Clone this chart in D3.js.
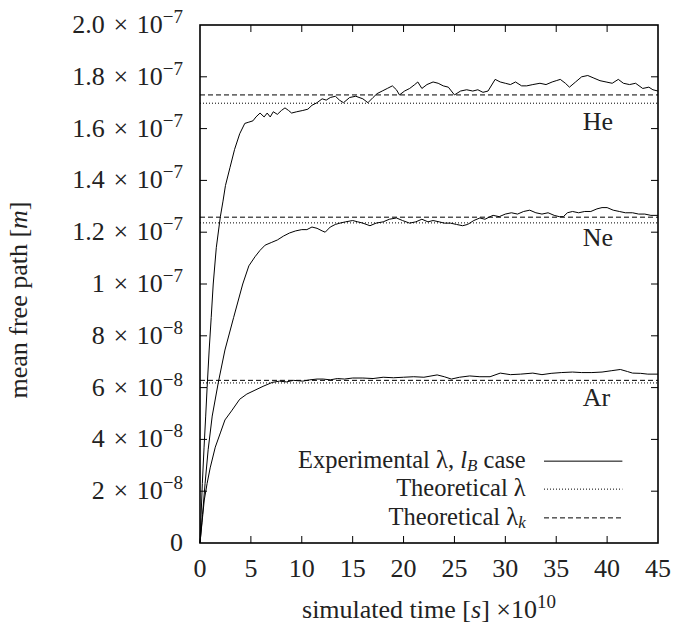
<!DOCTYPE html>
<meta charset="utf-8">
<style>
    body { margin: 0; background: #fff; }
    svg text { font-family: "Liberation Serif", "DejaVu Serif", serif; fill: #222; }
    .frame { fill: none; stroke: #000; stroke-width: 1.6px; }
    .curve { fill: none; stroke: #000; stroke-width: 1px; }
    .dotted { stroke: #000; stroke-width: 1px; stroke-dasharray: 1,2; }
    .dashed { stroke: #000; stroke-width: 1px; stroke-dasharray: 5,3; }
</style>
<body>
<script src="https://d3js.org/d3.v7.min.js"></script>
<script>
// time in units of 1e-10 s, mean free path in units of 1e-8 m
var heTime = [0,0.1,0.23,0.4,0.56,0.7,0.9,1.1,1.3,1.6,2.0,2.26,2.5,2.95,3.4,3.9,4.4,4.8,5.2,5.5,5.9,6.3,6.6,6.9,7.2,7.6,8.0,8.35,8.7,9.0,9.5,10.1,10.6,11.0,11.5,12.0,12.4,12.8,13.3,13.7,14.1,14.7,15.3,16.0,16.5,17.0,17.4,17.9,18.4,18.9,19.3,19.6,20.1,20.6,21.1,21.4,21.8,22.3,22.9,23.4,23.9,24.4,25.0,25.6,26.2,26.8,27.3,27.8,28.3,29.0,29.5,30.0,30.5,31.0,31.6,32.1,32.7,33.4,34.0,34.6,35.0,35.4,35.9,36.3,36.9,37.5,38.1,38.7,39.3,39.9,40.5,41.1,41.6,42.2,42.8,43.5,44.1,44.5,45.0];
var heValue = [0,1.0,2.3,3.7,4.9,6.0,7.45,8.7,10.0,11.4,12.6,13.2,13.8,14.5,15.2,15.8,16.2,16.25,16.3,16.45,16.6,16.45,16.6,16.45,16.65,16.55,16.7,16.8,16.7,16.6,16.65,16.7,16.75,16.9,17.0,17.15,17.1,17.2,17.25,17.1,17.0,17.2,17.25,17.15,17.0,17.2,17.35,17.45,17.55,17.65,17.5,17.3,17.45,17.55,17.7,17.8,17.55,17.7,17.8,17.75,17.65,17.6,17.3,17.45,17.5,17.45,17.5,17.4,17.45,17.9,17.8,17.75,17.7,17.8,17.65,17.65,17.7,17.75,17.7,17.8,17.85,17.9,17.75,17.6,17.8,18.0,18.05,17.95,17.85,17.8,17.75,17.9,17.75,17.7,17.75,17.55,17.6,17.5,17.45];

var neTime = [0,0.25,0.5,0.8,1.2,1.8,2.45,3.3,4.2,4.8,5.4,5.9,6.4,7.0,7.6,8.2,8.8,9.4,10.0,10.5,11.0,11.5,12.0,12.3,12.8,13.3,13.75,14.3,15.0,15.5,16.0,16.7,17.3,18.0,18.6,19.3,19.9,20.6,21.2,21.8,22.4,22.9,23.5,24.0,24.6,25.2,25.8,26.3,26.9,27.5,28.0,28.5,28.8,29.4,30.0,30.6,31.2,31.8,32.4,33.0,33.6,34.2,34.8,35.3,35.7,36.1,36.6,37.2,37.8,38.4,39.0,39.5,40.0,40.6,41.2,41.8,42.5,43.1,43.7,44.3,45.0];
var neValue = [0,1.1,2.3,3.6,4.9,6.2,7.45,8.7,10.0,10.7,11.05,11.3,11.5,11.6,11.7,11.85,11.97,12.05,12.1,12.1,12.2,12.15,12.05,12.0,12.2,12.3,12.35,12.4,12.45,12.4,12.35,12.25,12.35,12.4,12.5,12.55,12.45,12.35,12.4,12.5,12.4,12.45,12.4,12.35,12.35,12.3,12.25,12.3,12.45,12.55,12.5,12.6,12.65,12.6,12.7,12.75,12.7,12.8,12.85,12.75,12.7,12.75,12.65,12.6,12.6,12.75,12.8,12.75,12.8,12.8,12.9,12.95,12.95,12.85,12.8,12.75,12.75,12.7,12.7,12.65,12.65];

var arTime = [0,0.2,0.42,0.7,1.0,1.5,2.0,2.45,3.1,3.9,4.6,5.4,6.2,7.1,7.8,8.5,9.2,10.1,10.8,11.5,12.1,12.8,13.5,14.2,15.0,16.0,17.0,18.0,19.0,20.0,21.0,22.0,23.3,24.0,24.7,25.5,26.5,27.5,28.5,29.5,30.5,31.5,32.7,33.6,34.5,35.5,36.6,37.5,38.5,39.5,40.4,41.3,42.0,42.5,43.3,44.0,45.0];
var arValue = [0,0.8,1.66,2.3,2.9,3.7,4.25,4.75,5.1,5.55,5.75,5.9,6.05,6.2,6.25,6.22,6.28,6.25,6.3,6.33,6.33,6.3,6.35,6.33,6.37,6.37,6.35,6.4,6.38,6.4,6.42,6.4,6.49,6.42,6.33,6.4,6.45,6.42,6.42,6.56,6.5,6.52,6.56,6.5,6.55,6.58,6.6,6.58,6.58,6.6,6.65,6.7,6.62,6.56,6.55,6.52,6.52];

var gasNames = ["He", "Ne", "Ar"];
var theoLambda = [16.98, 12.36, 6.18];
var theoLambdaK = [17.30, 12.58, 6.28];
var labelValue = [15.95, 11.45, 5.3];

var xTicks = [0,5,10,15,20,25,30,35,40,45];
var yTicks = [0,2,4,6,8,10,12,14,16,18,20];
var yMant = ["0","2","4","6","8","1","1.2","1.4","1.6","1.8","2.0"];
var yExp = ["","−8","−8","−8","−8","−7","−7","−7","−7","−7","−7"];

var width = 689, height = 628;
var margin = {left: 200, right: 31, top: 25, bottom: 85};
var fs = "26px", fsSup = "19px";

var x = d3.scaleLinear().domain([0, 45]).range([margin.left, width - margin.right]);
var y = d3.scaleLinear().domain([0, 20]).range([height - margin.bottom, margin.top]);

var svg = d3.select("body").append("svg")
    .attr("width", width)
    .attr("height", height);

// ticks on all four sides, pointing in
var tl = 7;
var ticks = svg.append("g").attr("stroke", "#000").attr("stroke-width", 1);
xTicks.slice(1, -1).forEach(function(t) {
    ticks.append("line").attr("x1", x(t)).attr("x2", x(t)).attr("y1", y(0)).attr("y2", y(0) - tl);
    ticks.append("line").attr("x1", x(t)).attr("x2", x(t)).attr("y1", y(20)).attr("y2", y(20) + tl);
});
yTicks.slice(1, -1).forEach(function(t) {
    ticks.append("line").attr("x1", x(0)).attr("x2", x(0) + tl).attr("y1", y(t)).attr("y2", y(t));
    ticks.append("line").attr("x1", x(45)).attr("x2", x(45) - tl).attr("y1", y(t)).attr("y2", y(t));
});

// x tick labels
svg.append("g").selectAll("text")
    .data(xTicks)
    .enter().append("text")
    .attr("x", function(d) { return x(d); })
    .attr("y", y(0) + 34)
    .attr("text-anchor", "middle")
    .style("font-size", fs)
    .text(function(d) { return d; });

// y tick labels with powers of ten
var yl = svg.append("g").selectAll("text")
    .data(yTicks)
    .enter().append("text")
    .attr("x", x(0) - 17)
    .attr("y", function(d) { return y(d) + 8; })
    .attr("text-anchor", "end")
    .style("font-size", fs);
yl.each(function(d, i) {
    var t = d3.select(this);
    if (!yExp[i]) { t.text(yMant[i]); return; }
    t.append("tspan").text(yMant[i] + "\u2004×\u200410");
    t.append("tspan").attr("dy", -10).style("font-size", fsSup).text(yExp[i]);
});

// theoretical lines
var lines = svg.append("g");
lines.selectAll(".dotted")
    .data(theoLambda)
    .enter().append("line")
    .attr("class", "dotted")
    .attr("x1", x(0)).attr("x2", x(45))
    .attr("y1", function(d) { return y(d); })
    .attr("y2", function(d) { return y(d); });
lines.selectAll(".dashed")
    .data(theoLambdaK)
    .enter().append("line")
    .attr("class", "dashed")
    .attr("x1", x(0)).attr("x2", x(45))
    .attr("y1", function(d) { return y(d); })
    .attr("y2", function(d) { return y(d); });

// experimental curves
var line = d3.line()
    .x(function(d) { return x(d[0]); })
    .y(function(d) { return y(d[1]); });

[[heTime, heValue], [neTime, neValue], [arTime, arValue]].forEach(function(s) {
    svg.append("path")
        .attr("class", "curve")
        .attr("d", line(d3.zip(s[0], s[1])));
});

// gas labels
svg.append("g").selectAll("text")
    .data(gasNames)
    .enter().append("text")
    .attr("x", x(37.6))
    .attr("y", function(d, i) { return y(labelValue[i]); })
    .style("font-size", fs)
    .text(function(d) { return d; });

// legend (slightly smaller so rows don't collide)
var legFs = "24.5px", legSub = "17px";
var legX = x(32.0), lineX1 = x(33.8), lineX2 = x(41.5);
var leg = svg.append("g");
var rows = [y(3.16), y(2.08), y(0.97)];

var t0 = leg.append("text").attr("x", legX).attr("y", rows[0] + 7).attr("text-anchor", "end").style("font-size", legFs);
t0.append("tspan").text("Experimental λ, ");
t0.append("tspan").style("font-style", "italic").text("l");
t0.append("tspan").attr("dy", 3).style("font-style", "italic").style("font-size", legSub).text("B");
t0.append("tspan").attr("dy", -3).text(" case");

leg.append("text").attr("x", legX).attr("y", rows[1] + 7).attr("text-anchor", "end").style("font-size", legFs)
    .text("Theoretical λ");

var t2 = leg.append("text").attr("x", legX).attr("y", rows[2] + 7).attr("text-anchor", "end").style("font-size", legFs);
t2.append("tspan").text("Theoretical λ");
t2.append("tspan").attr("dy", 3).style("font-style", "italic").style("font-size", legSub).text("k");

leg.append("line").attr("class", "curve").attr("x1", lineX1).attr("x2", lineX2).attr("y1", rows[0]).attr("y2", rows[0]);
leg.append("line").attr("class", "dotted").attr("x1", lineX1).attr("x2", lineX2).attr("y1", rows[1]).attr("y2", rows[1]);
leg.append("line").attr("class", "dashed").attr("x1", lineX1).attr("x2", lineX2).attr("y1", rows[2]).attr("y2", rows[2]);

// frame
svg.append("rect")
    .attr("class", "frame")
    .attr("x", x(0)).attr("y", y(20))
    .attr("width", x(45) - x(0))
    .attr("height", y(0) - y(20));

// axis titles
var xt = svg.append("text")
    .attr("x", 429)
    .attr("y", 618)
    .attr("text-anchor", "middle")
    .style("font-size", fs);
xt.append("tspan").text("simulated time [");
xt.append("tspan").style("font-style", "italic").text("s");
xt.append("tspan").text("] ×10");
xt.append("tspan").attr("dy", -10).style("font-size", fsSup).text("10");

var yt = svg.append("text")
    .attr("transform", "translate(27,300) rotate(-90)")
    .attr("text-anchor", "middle")
    .style("font-size", fs);
yt.append("tspan").text("mean free path [");
yt.append("tspan").style("font-style", "italic").text("m");
yt.append("tspan").text("]");
</script>
</body>
</html>
